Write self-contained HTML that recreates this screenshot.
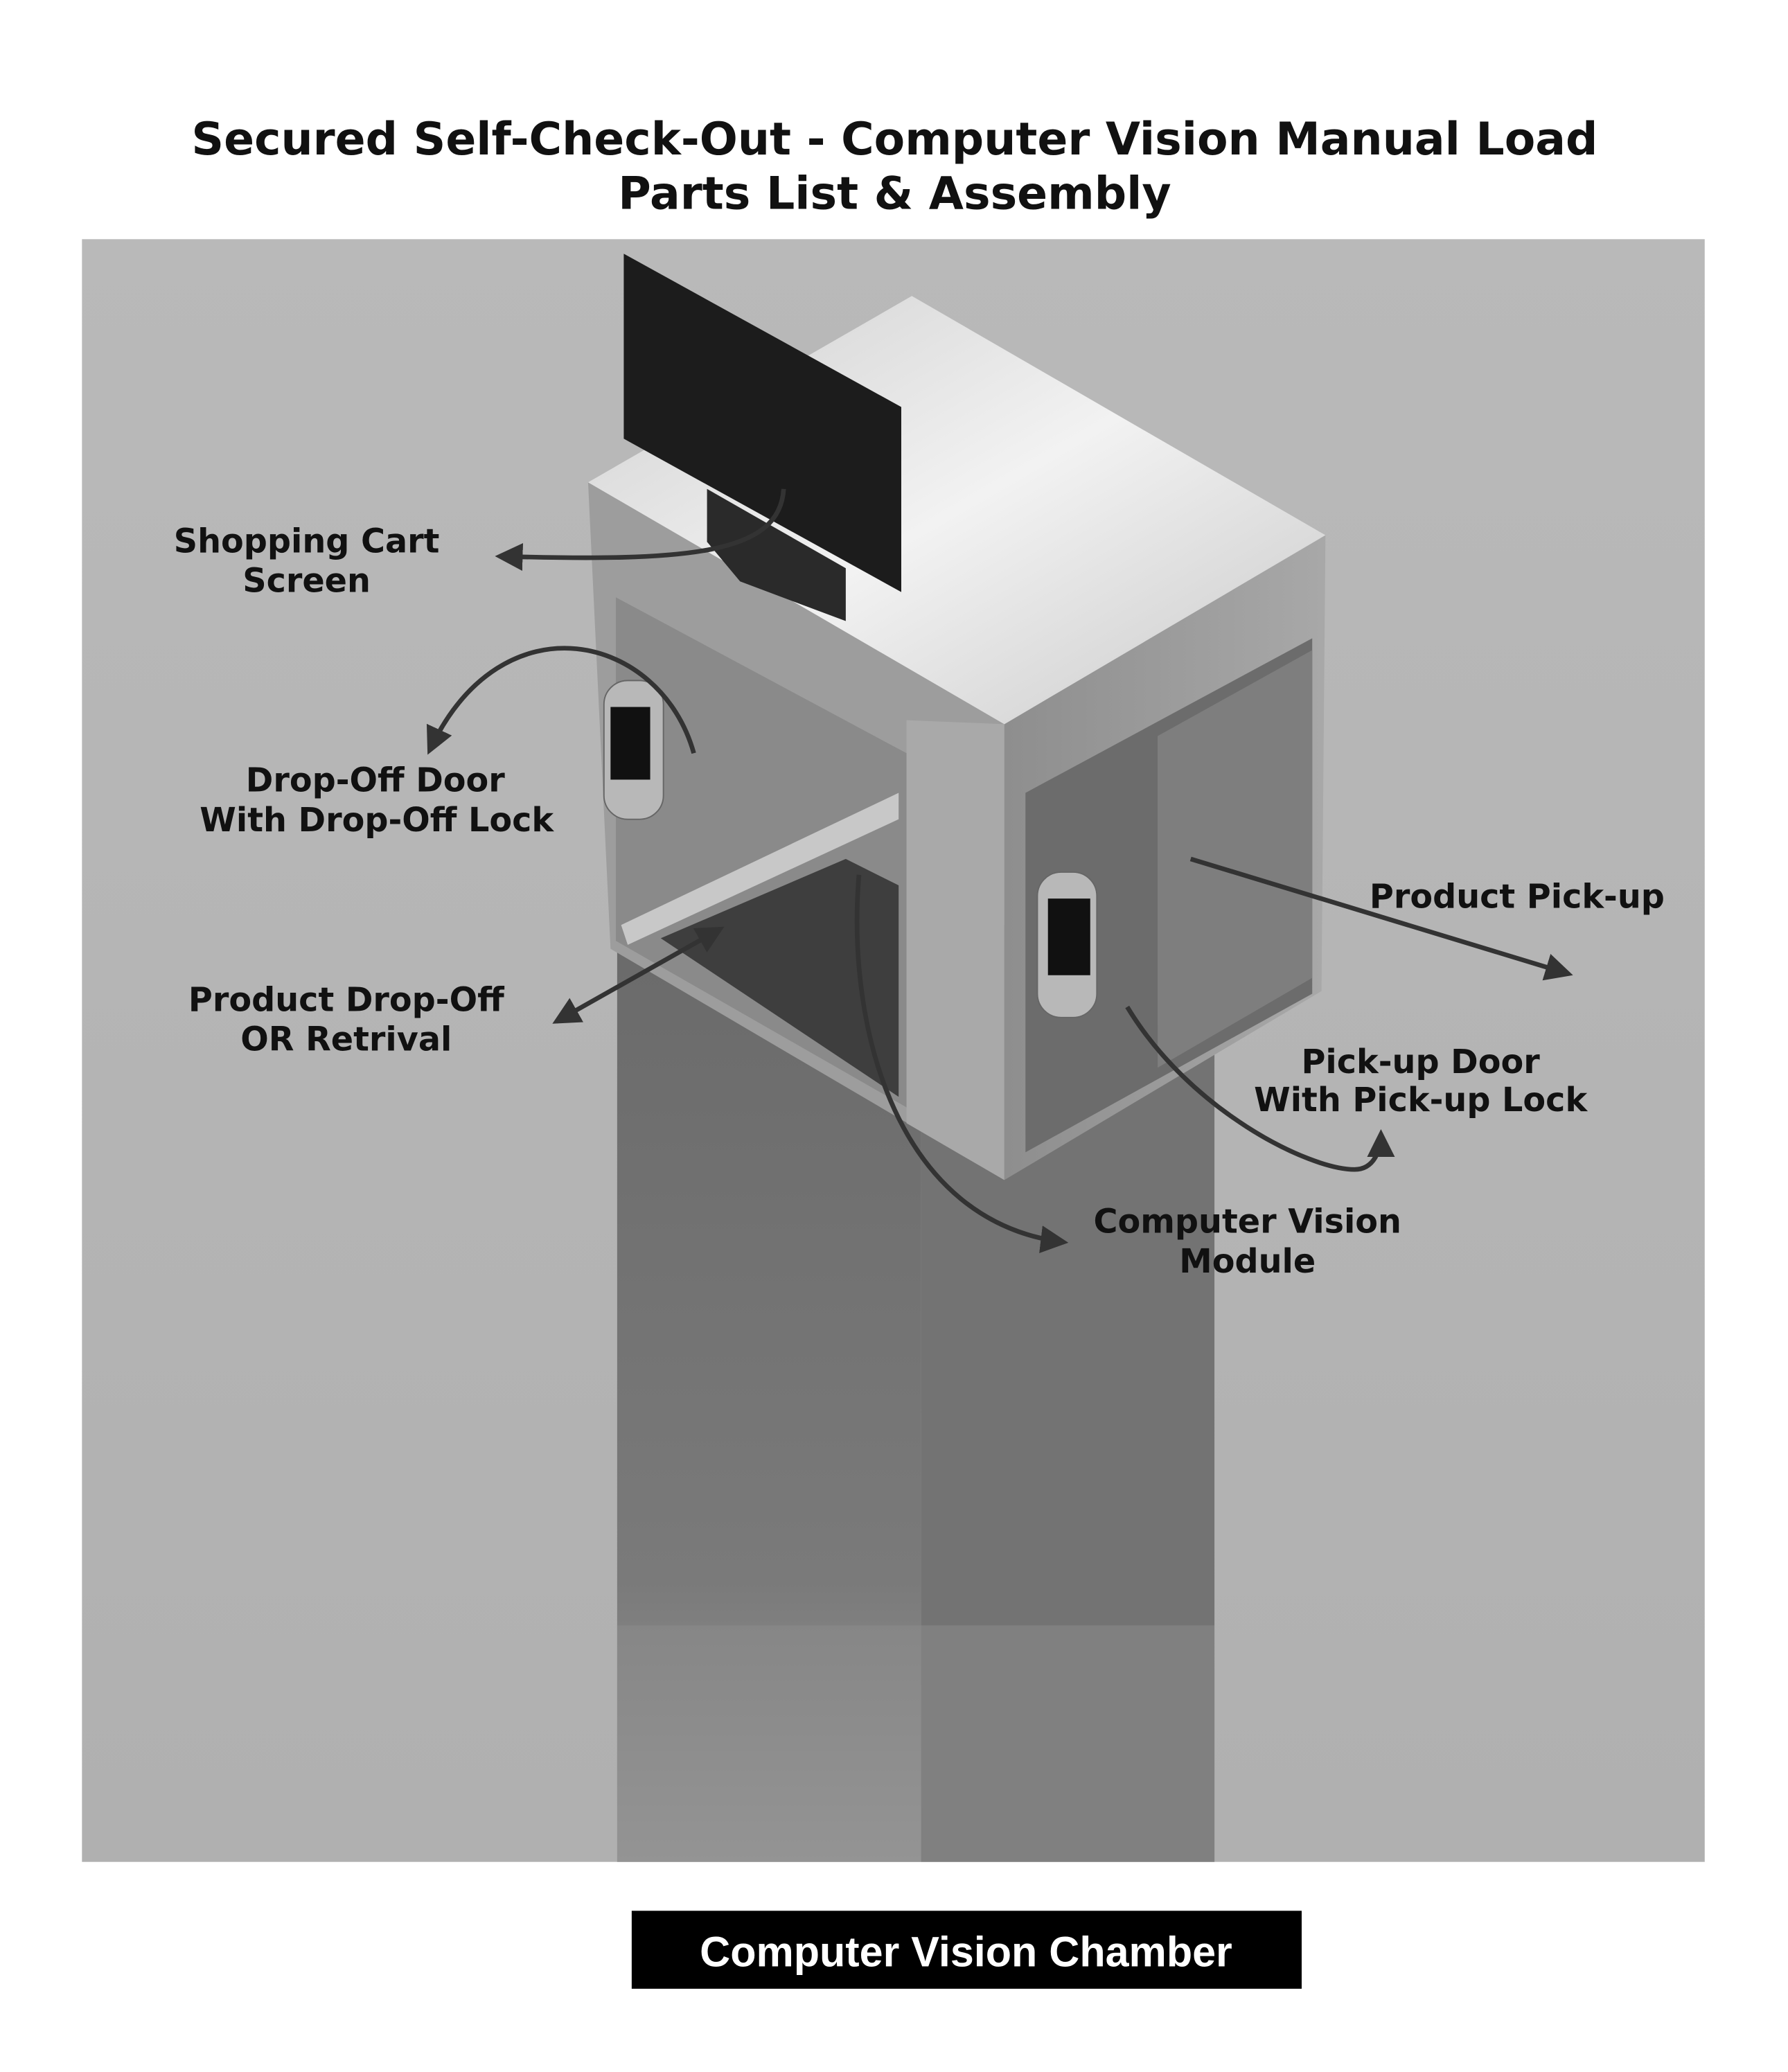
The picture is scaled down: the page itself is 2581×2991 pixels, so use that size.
<!DOCTYPE html>
<html><head><meta charset="utf-8"><style>
html,body{margin:0;padding:0;background:#fff;}
svg{display:block;}
.t{font-family:"DejaVu Sans","Liberation Sans",sans-serif;font-weight:bold;fill:#111;text-anchor:middle;}
</style></head><body>
<svg width="2581" height="2991" viewBox="0 0 1353 1568" xmlns="http://www.w3.org/2000/svg">
<defs>
<linearGradient id="bg" x1="0" y1="0" x2="0" y2="1"><stop offset="0" stop-color="#b9b9b9"/><stop offset="1" stop-color="#b0b0b0"/></linearGradient>
<linearGradient id="ped" x1="0" y1="0" x2="0" y2="1"><stop offset="0" stop-color="#6a6a6a"/><stop offset="0.7" stop-color="#7a7a7a"/><stop offset="1" stop-color="#9a9a9a"/></linearGradient>
<linearGradient id="top" x1="0" y1="0" x2="1" y2="1"><stop offset="0" stop-color="#cfcfcf"/><stop offset="0.5" stop-color="#f2f2f2"/><stop offset="1" stop-color="#c8c8c8"/></linearGradient>
<linearGradient id="rf" x1="0" y1="0" x2="1" y2="0"><stop offset="0" stop-color="#8e8e8e"/><stop offset="1" stop-color="#a8a8a8"/></linearGradient>
<marker id="ah" markerWidth="6" markerHeight="6" refX="5" refY="3" orient="auto" markerUnits="strokeWidth"><path d="M0,0 L6,3 L0,6 Z" fill="#333"/></marker>
<marker id="as" markerWidth="6" markerHeight="6" refX="1" refY="3" orient="auto" markerUnits="strokeWidth"><path d="M6,0 L0,3 L6,6 Z" fill="#333"/></marker>
</defs>
<rect width="1353" height="1568" fill="#fff"/>
<text class="t" x="677" y="117" font-size="34">Secured Self-Check-Out - Computer Vision Manual Load</text>
<text class="t" x="677" y="158" font-size="34">Parts List &amp; Assembly</text>
<rect x="62" y="181" width="1228" height="1228" fill="url(#bg)"/>
<rect x="467" y="700" width="230" height="709" fill="url(#ped)"/>
<rect x="697" y="700" width="222" height="709" fill="#737373"/>
<rect x="467" y="1230" width="452" height="179" fill="#8d8d8d" opacity="0.5"/>
<polygon points="445,365 760,548 760,893 462,718" fill="#9d9d9d"/>
<polygon points="466,452 686,570 686,838 466,712" fill="#8a8a8a"/>
<polygon points="500,710 640,650 680,670 680,830" fill="#3e3e3e"/>
<polygon points="470,700 680,600 680,620 475,715" fill="#c8c8c8"/>
<polygon points="686,545 760,548 760,893 686,850" fill="#a9a9a9"/>
<polygon points="760,548 1003,405 1000,750 760,893" fill="url(#rf)"/>
<polygon points="776,600 993,483 993,752 776,872" fill="#6c6c6c"/>
<polygon points="876,557 993,492 993,740 876,808" fill="#7e7e7e"/>
<polygon points="445,365 690,224 1003,405 760,548" fill="url(#top)"/>
<polygon points="535,370 640,430 640,470 560,440 535,410" fill="#2a2a2a"/>
<polygon points="472,192 682,308 682,448 472,332" fill="#1c1c1c"/>
<rect x="457" y="515" width="45" height="105" rx="18" fill="#b8b8b8" stroke="#666"/>
<rect x="462" y="535" width="30" height="55" fill="#111"/>
<rect x="785" y="660" width="45" height="110" rx="18" fill="#b8b8b8" stroke="#666"/>
<rect x="793" y="680" width="32" height="58" fill="#111"/>
<g fill="none" stroke="#333" stroke-width="3.5">
<path d="M593,370 C590,420 520,425 378,421" marker-end="url(#ah)"/>
<path d="M525,570 C500,480 380,450 325,568" marker-end="url(#ah)"/>
<path d="M421,773 L545,703" marker-end="url(#ah)" marker-start="url(#as)"/>
<path d="M650,662 C640,780 680,925 805,940" marker-end="url(#ah)"/>
<path d="M901,650 L1187,737" marker-end="url(#ah)"/>
<path d="M853,762 C900,840 990,885 1025,885 C1040,885 1045,870 1045,858" marker-end="url(#ah)"/>
</g>
<g font-size="25">
<text class="t" x="232" y="418">Shopping Cart</text>
<text class="t" x="232" y="448">Screen</text>
<text class="t" x="284" y="599">Drop-Off Door</text>
<text class="t" x="285" y="629">With Drop-Off Lock</text>
<text class="t" x="262" y="765">Product Drop-Off</text>
<text class="t" x="262" y="795">OR Retrival</text>
<text class="t" x="1148" y="687">Product Pick-up</text>
<text class="t" x="1075" y="812">Pick-up Door</text>
<text class="t" x="1075" y="841">With Pick-up Lock</text>
<text class="t" x="944" y="933">Computer Vision</text>
<text class="t" x="944" y="963">Module</text>
</g>
<rect x="478" y="1446" width="507" height="59" fill="#000"/>
<text x="731" y="1488" font-size="32" font-weight="bold" fill="#fff" text-anchor="middle" font-family="Liberation Sans, sans-serif">Computer Vision Chamber</text>
</svg>
</body></html>
